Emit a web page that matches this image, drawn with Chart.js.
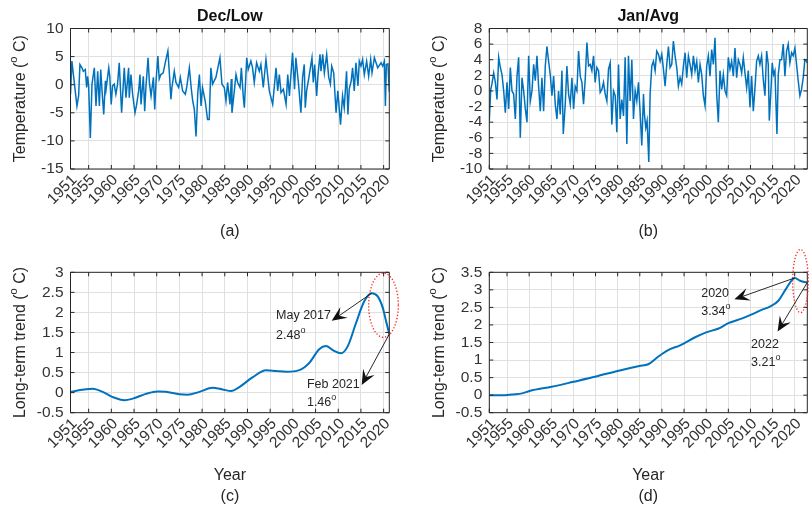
<!DOCTYPE html>
<html>
<head>
<meta charset="utf-8">
<script src="https://cdn.jsdelivr.net/npm/chart.js@4.4.1/dist/chart.umd.min.js"></script>
<style>
  html, body { margin: 0; padding: 0; background: #fff; }
  #wrap { position: relative; width: 811px; height: 507px; overflow: hidden; }
  #wrap canvas { position: absolute; }
</style>
</head>
<body>
<div id="wrap">
  <canvas id="chart-a" width="405" height="250" style="left:0;top:0"></canvas>
  <canvas id="chart-b" width="406" height="250" style="left:405px;top:0"></canvas>
  <canvas id="chart-c" width="405" height="277" style="left:0;top:230px"></canvas>
  <canvas id="chart-d" width="406" height="277" style="left:405px;top:230px"></canvas>
</div>
<script>
const yearTicks = [1951, 1955, 1960, 1965, 1970, 1975, 1980, 1985, 1990, 1995, 2000, 2005, 2010, 2015, 2020];

// December low temperatures (anomaly, deg C)
const decLowYears = [
  1951.0, 1951.31, 1951.83, 1952.42, 1952.79, 1953.08, 1953.52, 1953.82, 1954.26, 1954.56,
  1954.78, 1955.0, 1955.37, 1955.74, 1956.25, 1956.62, 1956.99, 1957.36, 1957.66, 1957.95,
  1958.32, 1958.69, 1958.84, 1959.43, 1959.65, 1959.97, 1960.26, 1960.63, 1961.0, 1961.37,
  1961.74, 1962.26, 1962.85, 1963.22, 1963.81, 1963.95, 1964.32, 1964.69, 1965.21, 1965.58,
  1966.02, 1966.32, 1966.54, 1967.05, 1967.35, 1967.64, 1968.09, 1968.38, 1968.75, 1969.27,
  1969.56, 1969.86, 1970.25, 1970.55, 1970.91, 1971.43, 1971.87, 1972.46, 1972.76, 1973.13,
  1973.35, 1973.87, 1974.24, 1974.83, 1975.2, 1975.71, 1976.3, 1976.6, 1977.19, 1977.63,
  1977.93, 1978.29, 1978.66, 1979.03, 1979.4, 1979.77, 1980.09, 1980.68, 1981.2, 1981.57,
  1981.93, 1982.3, 1983.04, 1983.93, 1984.37, 1984.89, 1985.26, 1985.62, 1986.14, 1986.44,
  1986.58, 1987.1, 1987.47, 1987.84, 1988.36, 1988.65, 1989.09, 1989.31, 1989.83, 1990.16,
  1990.75, 1991.12, 1991.49, 1992.01, 1992.6, 1992.96, 1993.48, 1994.07, 1994.81, 1995.55,
  1996.29, 1996.66, 1997.02, 1997.39, 1997.91, 1998.5, 1998.87, 1999.24, 1999.93, 2000.37,
  2000.66, 2001.25, 2001.77, 2002.14, 2002.51, 2002.73, 2003.03, 2003.47, 2004.21, 2004.5,
  2004.8, 2005.24, 2005.54, 2005.98, 2006.2, 2006.57, 2006.94, 2007.45, 2007.9, 2008.27,
  2008.56, 2009.0, 2009.52, 2009.91, 2010.5, 2010.95, 2011.32, 2011.83, 2012.13, 2012.42,
  2012.86, 2013.16, 2013.53, 2013.9, 2014.34, 2014.64, 2015.01, 2015.37, 2015.74, 2016.26,
  2016.7, 2017.15, 2017.44, 2017.96, 2018.7, 2019.43, 2019.8, 2020.17, 2020.39, 2020.6,
  2020.95, 2021.25
];
const decLowTemp = [
  -1.7, 4.2, 0.4, -3.8, -2.0, 3.6, 3.0, 2.4, 2.7, -0.5,
  1.5, -0.2, -9.5, 0.1, 3.0, -3.8, 2.4, -3.8, 2.7, -1.1,
  -5.3, 0.7, -0.8, 3.0, 1.5, -3.5, -0.2, 0.1, -1.7, 0.1,
  3.9, -5.0, 3.0, -2.3, 3.0, -2.3, 1.8, -1.7, -5.0, -3.5,
  -1.1, 1.8, -3.5, 1.5, -4.7, -0.2, 4.8, 0.4, -2.0, 1.3,
  -4.4, 0.7, 5.1, 1.0, 1.8, 2.1, 3.9, 6.0, 2.4, -2.6,
  -0.5, 2.4, 0.4, -0.5, 1.3, -1.1, -1.7, -0.5, 3.0, -0.8,
  -2.9, -4.4, -9.2, -1.7, 1.8, -3.8, -0.5, -2.9, -6.2, -6.2,
  3.0, 0.1, 1.3, 4.8, 0.1, -0.5, -2.9, 0.4, -3.5, 1.0,
  -5.0, -1.1, 1.8, 0.4, -0.5, 3.0, -2.3, -4.1, 4.8, 2.7,
  4.2, 3.0, 0.4, 3.9, 2.4, 3.6, -0.5, 4.5, -1.1, -3.5,
  3.0, -1.1, 1.8, -1.4, -0.8, -3.5, 1.8, -2.0, 5.7, -0.8,
  4.8, 0.1, -5.0, 1.3, 3.6, -4.1, -1.1, 1.0, 4.8, 0.4,
  3.6, -2.0, 1.8, 5.4, 2.4, 5.4, 2.1, 5.4, 1.3, 0.1,
  3.3, 2.1, -5.0, -1.1, -7.1, -2.0, -4.1, 2.4, -5.3, -0.8,
  0.7, 3.0, -1.1, 3.9, -0.2, 4.2, 3.3, 4.5, 1.8, 4.2,
  1.5, 4.5, 2.1, 4.8, 3.0, 3.9, 3.3, 4.2, -3.8, 3.6,
  3.7, -1.3
];

// January average temperatures (anomaly, deg C)
const janAvgYears = [
  1951.0, 1951.32, 1951.6, 1951.99, 1952.37, 1952.74, 1953.12, 1953.5, 1953.87, 1954.25,
  1954.62, 1955.0, 1955.38, 1955.75, 1956.13, 1956.5, 1956.88, 1957.26, 1957.63, 1958.0,
  1958.38, 1958.76, 1959.14, 1959.51, 1959.89, 1960.26, 1960.64, 1961.02, 1961.39, 1961.77,
  1962.14, 1962.52, 1962.89, 1963.27, 1963.65, 1964.02, 1964.4, 1964.77, 1965.15, 1965.53,
  1965.9, 1966.28, 1966.65, 1967.03, 1967.41, 1967.71, 1968.16, 1968.53, 1968.91, 1969.29,
  1969.66, 1970.04, 1970.41, 1970.79, 1971.17, 1971.54, 1971.92, 1972.29, 1972.67, 1973.05,
  1973.42, 1973.8, 1974.17, 1974.55, 1974.92, 1975.3, 1975.68, 1976.05, 1976.43, 1976.8,
  1977.18, 1977.56, 1977.93, 1978.31, 1978.68, 1979.06, 1979.44, 1979.81, 1980.19, 1980.56,
  1980.94, 1981.32, 1981.69, 1982.07, 1982.44, 1982.82, 1983.2, 1983.57, 1983.95, 1984.32,
  1984.7, 1985.08, 1985.45, 1985.83, 1986.05, 1986.35, 1986.65, 1987.03, 1987.33, 1987.71,
  1988.08, 1988.46, 1988.83, 1989.21, 1989.59, 1989.96, 1990.34, 1990.71, 1991.09, 1991.47,
  1991.84, 1992.22, 1992.59, 1992.97, 1993.35, 1993.72, 1994.1, 1994.47, 1994.85, 1995.23,
  1995.6, 1995.98, 1996.35, 1996.73, 1997.11, 1997.48, 1997.86, 1998.23, 1998.61, 1998.98,
  1999.36, 1999.74, 2000.11, 2000.49, 2000.86, 2001.24, 2001.62, 2001.99, 2002.37, 2002.74,
  2003.12, 2003.5, 2003.87, 2004.25, 2004.62, 2005.0, 2005.38, 2005.75, 2006.13, 2006.5,
  2006.88, 2007.26, 2007.63, 2008.01, 2008.38, 2008.76, 2009.14, 2009.51, 2009.89, 2010.26,
  2010.64, 2011.02, 2011.39, 2011.77, 2012.14, 2012.52, 2012.89, 2013.27, 2013.65, 2014.02,
  2014.25, 2014.62, 2014.92, 2015.23, 2015.53, 2015.98, 2016.28, 2016.65, 2017.03, 2017.41,
  2017.78, 2018.16, 2018.53, 2018.91, 2019.29, 2019.66, 2020.04, 2020.41, 2020.79, 2021.17,
  2021.54, 2021.92, 2022.29, 2022.67, 2022.84
];
const janAvgTemp = [
  -3.8, 0.2, 0.9, 2.3, 1.1, -1.1, 4.3, 3.0, 2.1, 0.0,
  -2.8, 1.1, -2.3, 3.0, 0.0, -0.4, -3.6, 1.9, 4.3, -6.0,
  1.7, 0.0, -2.3, -4.0, 4.5, -1.3, 0.0, 3.4, 1.3, 4.5,
  0.6, -2.6, 1.7, -2.6, 3.2, 5.7, 3.8, 2.1, -0.6, 1.9,
  -1.7, -3.6, 0.0, -3.0, 2.6, -5.5, -1.7, 3.2, -0.4, -1.7,
  1.7, -2.3, 0.6, 0.0, 5.1, 1.9, 1.1, -1.7, 1.5, 6.2,
  3.2, 3.4, 2.6, 4.5, 1.1, 3.0, 2.6, -0.2, 0.2, 1.1,
  -0.4, -1.3, 2.8, 3.6, -4.3, 0.0, -0.6, -5.3, 3.4, -3.6,
  -1.1, -3.2, 4.3, -6.8, 4.5, -1.3, 4.0, -3.6, 0.0, -1.3,
  1.1, -2.8, -7.0, -0.4, -3.0, -4.7, -3.8, -9.1, -0.4, 3.2,
  3.8, 2.6, 5.1, 4.7, 3.8, 4.7, 2.8, 0.6, 3.4, 5.7,
  3.0, 3.4, 6.4, 4.5, 3.0, 0.6, 1.7, 0.9, 3.2, 4.9,
  1.7, 4.5, 3.4, 2.1, 4.5, 2.6, 3.8, 1.1, 3.4, 2.1,
  -0.6, -1.9, 3.2, 4.5, 1.9, 5.3, 3.4, 6.8, -0.4, -4.0,
  2.6, 0.2, 2.1, 0.0, -0.6, 4.3, 2.8, 3.8, 1.9, 5.5,
  1.7, 4.0, 3.4, 2.3, 4.3, 2.3, 0.4, 2.6, -2.1, 1.9,
  -2.6, 0.4, 3.8, 4.5, 3.4, 4.5, 1.5, -0.6, 5.1, 3.4,
  -3.8, 0.0, 3.6, 2.1, 2.6, -5.5, 2.1, 4.0, 4.0, 6.0,
  1.9, 5.1, 6.0, 3.6, 4.9, 4.5, 5.5, 3.4, 1.3, -0.6,
  0.2, 1.7, 4.0, 3.8, 3.6
];

// long-term trend components
const trendLowYears = [
  1951.0, 1953.5, 1955.9, 1958.1, 1960.3, 1962.9, 1964.7, 1967.6, 1970.2, 1972.0,
  1975.0, 1976.8, 1979.4, 1982.3, 1984.5, 1986.4, 1988.2, 1991.1, 1994.1, 1996.3,
  1998.5, 2001.4, 2003.6, 2005.8, 2007.3, 2008.8, 2010.6, 2012.1, 2013.9, 2015.7,
  2017.37, 2018.7, 2019.8, 2020.5, 2021.25
];
const trendLow = [
  0.02, 0.07, 0.10, 0.02, -0.11, -0.19, -0.15, -0.03, 0.03, 0.02,
  -0.04, -0.05, 0.02, 0.12, 0.08, 0.04, 0.14, 0.38, 0.56, 0.54,
  0.52, 0.56, 0.74, 1.08, 1.16, 1.06, 0.98, 1.16, 1.73, 2.27,
  2.48, 2.40, 2.12, 1.80, 1.46
];
const trendAvgYears = [
  1951.0, 1954.6, 1956.1, 1958.4, 1960.1, 1965.1, 1970.0, 1975.1, 1980.0, 1984.9,
  1986.9, 1989.2, 1991.5, 1994.1, 1997.5, 2000.0, 2002.8, 2005.0, 2008.0, 2010.3,
  2012.5, 2014.4, 2016.3, 2018.1, 2020.0, 2021.2, 2021.9, 2022.84
];
const trendAvg = [
  0, 0, 0.02, 0.05, 0.12, 0.24, 0.38, 0.53, 0.69, 0.83,
  0.88, 1.10, 1.29, 1.42, 1.65, 1.79, 1.90, 2.05, 2.18, 2.30,
  2.43, 2.52, 2.69, 3.04, 3.34, 3.26, 3.23, 3.21
];

const FONT = '"Liberation Sans", Arial, sans-serif';
const BLUE = '#0072BD';
const INK = '#262626';

function series(xs, ys) {
  return xs.map((x, i) => ({ x, y: ys[i] }));
}

// text with superscript pieces, parts = [[text, isSup], ...]
function supText(ctx, parts, x, y, size, align) {
  const big = size + 'px ' + FONT;
  const small = Math.round(size * 0.7) + 'px ' + FONT;
  const widths = parts.map(([s, sup]) => {
    ctx.font = sup ? small : big;
    return ctx.measureText(s).width;
  });
  const total = widths.reduce((p, w) => p + w, 0);
  let cx = align === 'center' ? x - total / 2 : x;
  ctx.textAlign = 'left';
  ctx.textBaseline = 'middle';
  parts.forEach(([s, sup], i) => {
    ctx.font = sup ? small : big;
    ctx.fillText(s, cx, sup ? y - size * 0.42 : y);
    cx += widths[i];
  });
}

function arrow(ctx, x0, y0, x1, y1) {
  const d = Math.hypot(x1 - x0, y1 - y0);
  const ux = (x1 - x0) / d, uy = (y1 - y0) / d;
  const L = 15, W = 6.5, N = 9;
  ctx.beginPath();
  ctx.moveTo(x0, y0);
  ctx.lineTo(x1 - ux * N, y1 - uy * N);
  ctx.stroke();
  ctx.beginPath();
  ctx.moveTo(x1, y1);
  ctx.lineTo(x1 - ux * L - uy * W, y1 - uy * L + ux * W);
  ctx.lineTo(x1 - ux * N, y1 - uy * N);
  ctx.lineTo(x1 - ux * L + uy * W, y1 - uy * L - ux * W);
  ctx.closePath();
  ctx.fill();
}

// box around the axes with inward tick marks on all sides
const axesBox = {
  id: 'axesBox',
  afterDraw(chart) {
    const { ctx, chartArea: a, scales: { x, y } } = chart;
    const len = 4;
    ctx.save();
    ctx.strokeStyle = INK;
    ctx.lineWidth = 1;
    ctx.beginPath();
    x.ticks.forEach(t => {
      const p = x.getPixelForValue(t.value);
      ctx.moveTo(p, a.bottom); ctx.lineTo(p, a.bottom - len);
      ctx.moveTo(p, a.top); ctx.lineTo(p, a.top + len);
    });
    y.ticks.forEach(t => {
      const p = y.getPixelForValue(t.value);
      ctx.moveTo(a.left, p); ctx.lineTo(a.left + len, p);
      ctx.moveTo(a.right, p); ctx.lineTo(a.right - len, p);
    });
    ctx.rect(a.left, a.top, a.right - a.left, a.bottom - a.top);
    ctx.stroke();
    ctx.restore();
  }
};

// titles, axis labels, arrows and circled regions
const panelText = {
  id: 'panelText',
  afterDraw(chart, args, o) {
    const { ctx, chartArea: a, scales: { x, y } } = chart;
    const cx = (a.left + a.right) / 2;
    ctx.save();
    ctx.fillStyle = INK;
    if (o.title) {
      ctx.font = 'bold 16px ' + FONT;
      ctx.fillStyle = '#111';
      ctx.textAlign = 'center';
      ctx.textBaseline = 'middle';
      ctx.fillText(o.title, cx, a.top - 11.5);
      ctx.fillStyle = INK;
    }
    (o.below || []).forEach((t, i) => {
      ctx.font = '16px ' + FONT;
      ctx.textAlign = 'center';
      ctx.textBaseline = 'middle';
      ctx.fillText(t, cx, a.bottom + 62.5 + 21 * i);
    });
    if (o.yTitle) {
      ctx.save();
      ctx.translate(a.left - 49.5, (a.top + a.bottom) / 2);
      ctx.rotate(-Math.PI / 2);
      supText(ctx, o.yTitle, 0, 0, 16, 'center');
      ctx.restore();
    }
    (o.ellipses || []).forEach(e => {
      const ex = x.getPixelForValue(e.at[0]), ey = y.getPixelForValue(e.at[1]);
      const rx = Math.abs(x.getPixelForValue(e.at[0] + e.rx) - ex);
      const ry = Math.abs(y.getPixelForValue(e.at[1] + e.ry) - ey);
      ctx.save();
      ctx.strokeStyle = '#ff2020';
      ctx.lineWidth = 1.3;
      ctx.setLineDash([1.3, 1.9]);
      ctx.beginPath();
      ctx.ellipse(ex, ey, rx, ry, 0, 0, Math.PI * 2);
      ctx.stroke();
      ctx.restore();
    });
    ctx.strokeStyle = '#111';
    ctx.fillStyle = '#111';
    ctx.lineWidth = 0.9;
    (o.arrows || []).forEach(r => {
      arrow(ctx, x.getPixelForValue(r.from[0]), y.getPixelForValue(r.from[1]),
        x.getPixelForValue(r.to[0]), y.getPixelForValue(r.to[1]));
    });
    ctx.fillStyle = INK;
    (o.labels || []).forEach(l => {
      supText(ctx, l.parts, x.getPixelForValue(l.at[0]), y.getPixelForValue(l.at[1]), 12.5, 'left');
    });
    ctx.restore();
  }
};

function panel(id, o) {
  const tickFont = { family: FONT, size: 15.5 };
  const grid = { color: '#e0e0e0', lineWidth: 1, drawTicks: false };
  return new Chart(document.getElementById(id), {
    type: 'line',
    data: {
      datasets: [{
        data: series(o.xs, o.ys),
        borderColor: BLUE,
        borderWidth: o.lineWidth,
        pointRadius: 0,
        tension: o.smooth ? 0.4 : 0,
        cubicInterpolationMode: o.smooth ? 'monotone' : 'default'
      }]
    },
    options: {
      responsive: false,
      animation: false,
      events: [],
      layout: { padding: { left: 0, right: o.padRight, top: o.padTop, bottom: 0 } },
      plugins: {
        legend: { display: false },
        tooltip: { enabled: false },
        panelText: o.text
      },
      scales: {
        x: {
          type: 'linear',
          min: 1951,
          max: o.xMax,
          afterBuildTicks: s => { s.ticks = yearTicks.map(v => ({ value: v })); },
          afterFit: s => { s.height = o.xHeight; },
          grid,
          border: { display: false },
          ticks: {
            autoSkip: false, minRotation: 45, maxRotation: 45, padding: 2, labelOffset: 4,
            font: tickFont, color: '#333', callback: v => String(v)
          }
        },
        y: {
          min: o.yMin,
          max: o.yMax,
          afterFit: s => { s.width = o.yWidth; },
          grid,
          border: { display: false },
          ticks: {
            autoSkip: false, stepSize: o.yStep, padding: 7,
            font: tickFont, color: '#333', callback: v => String(v)
          }
        }
      }
    },
    plugins: [axesBox, panelText]
  });
}

const degTitle = name => [[name + ' (', false], ['o', true], [' C)', false]];

panel('chart-a', {
  xs: decLowYears, ys: decLowTemp, lineWidth: 1.5, smooth: false,
  xMax: 2021.25, yMin: -15, yMax: 10, yStep: 5,
  padTop: 28.5, padRight: 15.7, yWidth: 70.5, xHeight: 81,
  text: { title: 'Dec/Low', yTitle: degTitle('Temperature'), below: ['(a)'] }
});

panel('chart-b', {
  xs: janAvgYears, ys: janAvgTemp, lineWidth: 1.5, smooth: false,
  xMax: 2022.84, yMin: -10, yMax: 8, yStep: 2,
  padTop: 28.5, padRight: 3.7, yWidth: 84.3, xHeight: 81,
  text: { title: 'Jan/Avg', yTitle: degTitle('Temperature'), below: ['(b)'] }
});

const iPeakLow = trendLow.indexOf(Math.max(...trendLow));
const iEndLow = trendLow.length - 1;
panel('chart-c', {
  xs: trendLowYears, ys: trendLow, lineWidth: 2, smooth: true,
  xMax: 2021.25, yMin: -0.5, yMax: 3, yStep: 0.5,
  padTop: 42.3, padRight: 15.7, yWidth: 70.5, xHeight: 94.3,
  text: {
    yTitle: degTitle('Long-term trend'),
    below: ['Year', '(c)'],
    ellipses: [{ at: [2019.97, 2.18], rx: 3.27, ry: 0.8 }],
    arrows: [
      { from: [trendLowYears[iPeakLow], trendLow[iPeakLow]], to: [2008.56, 1.79] },
      { from: [trendLowYears[iEndLow], trendLow[iEndLow]], to: [2015.17, 0.19] }
    ],
    labels: [
      { at: [1996.3, 1.91], parts: [['May 2017', false]] },
      { at: [1996.3, 1.43], parts: [[trendLow[iPeakLow].toFixed(2), false], ['o', true]] },
      { at: [2003.1, 0.21], parts: [['Feb 2021', false]] },
      { at: [2003.1, -0.24], parts: [[trendLow[iEndLow].toFixed(2), false], ['o', true]] }
    ]
  }
});

const iPeakAvg = trendAvg.indexOf(Math.max(...trendAvg));
const iEndAvg = trendAvg.length - 1;
panel('chart-d', {
  xs: trendAvgYears, ys: trendAvg, lineWidth: 2, smooth: true,
  xMax: 2022.84, yMin: -0.5, yMax: 3.5, yStep: 0.5,
  padTop: 42.3, padRight: 3.7, yWidth: 84.3, xHeight: 94.3,
  text: {
    yTitle: degTitle('Long-term trend'),
    below: ['Year', '(d)'],
    ellipses: [{ at: [2021.3, 3.25], rx: 1.76, ry: 0.9 }],
    arrows: [
      { from: [trendAvgYears[iPeakAvg], trendAvg[iPeakAvg]], to: [2006.37, 2.73] },
      { from: [trendAvgYears[iEndAvg], trendAvg[iEndAvg]], to: [2016.13, 1.81] }
    ],
    labels: [
      { at: [1998.87, 2.90], parts: [['2020', false]] },
      { at: [1998.87, 2.38], parts: [[trendAvg[iPeakAvg].toFixed(2), false], ['o', true]] },
      { at: [2010.14, 1.45], parts: [['2022', false]] },
      { at: [2010.14, 0.93], parts: [[trendAvg[iEndAvg].toFixed(2), false], ['o', true]] }
    ]
  }
});
</script>
</body>
</html>
